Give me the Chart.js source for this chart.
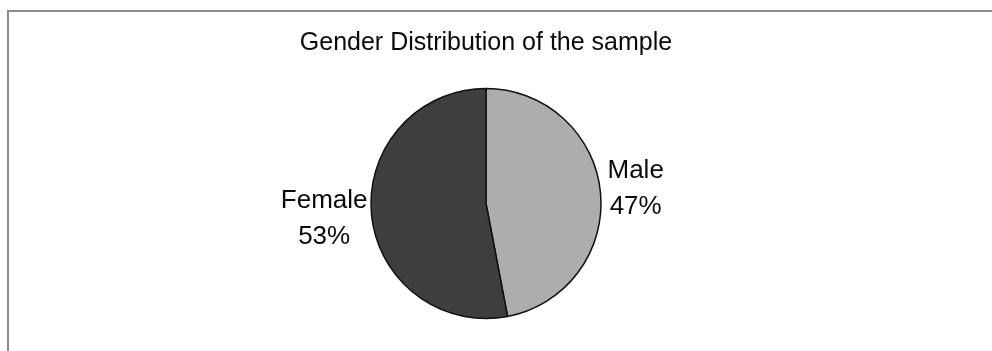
<!DOCTYPE html>
<html>
<head>
<meta charset="utf-8">
<script src="https://cdn.jsdelivr.net/npm/chart.js@4/dist/chart.umd.min.js"></script>
<style>
  html, body { margin: 0; padding: 0; background: #ffffff; }
  #wrap { width: 992px; height: 351px; position: relative; }
</style>
</head>
<body>
<div id="wrap"><canvas id="chart" width="992" height="351"></canvas></div>
<script>
// Sample composition by gender (percent of respondents)
const categories = ['Male', 'Female'];
const shares = [47, 53];
const sliceColors = ['#adadad', '#3e3e3e'];
const chartTitle = 'Gender Distribution of the sample';

const FONT = '"Liberation Sans", Arial, sans-serif';

// Thin grey frame along the top and left edges of the canvas
const framePlugin = {
  id: 'frame',
  beforeDraw(chart) {
    const ctx = chart.ctx;
    ctx.save();
    ctx.fillStyle = '#ffffff';
    ctx.fillRect(0, 0, chart.width, chart.height);
    ctx.strokeStyle = '#8c8c8c';
    ctx.lineWidth = 2;
    ctx.beginPath();
    ctx.moveTo(8, chart.height);
    ctx.lineTo(8, 11);
    ctx.lineTo(chart.width, 11);
    ctx.stroke();
    ctx.restore();
  }
};

// Category name and percentage drawn just outside each slice
const outsideLabels = {
  id: 'outsideLabels',
  afterDatasetsDraw(chart) {
    const ctx = chart.ctx;
    const meta = chart.getDatasetMeta(0);
    const data = chart.data.datasets[0].data;
    const total = data.reduce((a, b) => a + b, 0);
    ctx.save();
    ctx.font = '26px ' + FONT;
    ctx.fillStyle = '#0a0a0a';
    ctx.textBaseline = 'middle';
    ctx.textAlign = 'center';
    const gap = 6, lineH = 36, reach = 1.4;
    meta.data.forEach((arc, i) => {
      const p = arc.getProps(['x', 'y', 'startAngle', 'endAngle', 'outerRadius'], true);
      const mid = (p.startAngle + p.endAngle) / 2;
      const ax = p.x + Math.cos(mid) * p.outerRadius;
      const ay = p.y + Math.sin(mid) * p.outerRadius * reach;
      const lines = [chart.data.labels[i], Math.round(data[i] / total * 100) + '%'];
      const w = Math.max(...lines.map(t => ctx.measureText(t).width));
      const cx = Math.cos(mid) >= 0 ? ax + gap + 1 + w / 2 : ax - gap + 2 - w / 2;
      const top = ay - (lines.length - 1) * lineH / 2;
      lines.forEach((t, k) => ctx.fillText(t, cx, top + k * lineH));
    });
    ctx.restore();
  }
};

new Chart(document.getElementById('chart'), {
  type: 'pie',
  data: {
    labels: categories,
    datasets: [{
      data: shares,
      backgroundColor: sliceColors,
      borderColor: '#111111',
      borderWidth: 1.5,
      radius: 115
    }]
  },
  options: {
    responsive: false,
    animation: false,
    layout: { padding: { left: 0, right: 20, top: 0, bottom: 10 } },
    plugins: {
      legend: { display: false },
      tooltip: { enabled: false },
      title: {
        display: true,
        text: chartTitle,
        color: '#0a0a0a',
        font: { family: FONT, size: 25, weight: 'normal' },
        padding: { top: 28, bottom: 8 }
      }
    }
  },
  plugins: [framePlugin, outsideLabels]
});
</script>
</body>
</html>
